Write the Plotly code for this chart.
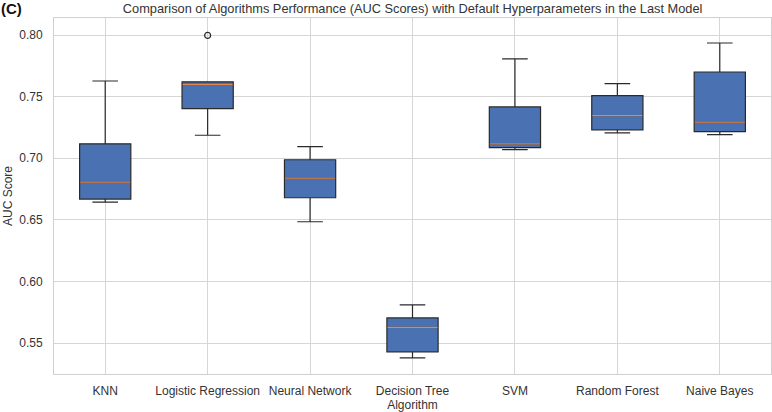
import plotly.graph_objects as go
import numpy as np

algorithms = ["KNN", "Logistic Regression", "Neural Network", "Decision Tree",
              "SVM", "Random Forest", "Naive Bayes"]

# five AUC scores per algorithm
knn = [0.6645, 0.6669, 0.6807, 0.7117, 0.7627]
logreg = [0.7187, 0.7403, 0.7598, 0.7620, 0.7997]
nnet = [0.6485, 0.6680, 0.6839, 0.6988, 0.7095]
dtree = [0.5381, 0.5430, 0.5629, 0.5705, 0.5810]
svm = [0.7071, 0.7087, 0.7117, 0.7417, 0.7806]
rforest = [0.7206, 0.7231, 0.7346, 0.7508, 0.7606]
nbayes = [0.7192, 0.7217, 0.7293, 0.7700, 0.7935]

scores = [knn, logreg, nnet, dtree, svm, rforest, nbayes]
positions = list(range(1, len(algorithms) + 1))

font = "Liberation Sans, Arial, sans-serif"
fig = go.Figure()

for pos, name, vals in zip(positions, algorithms, scores):
    fig.add_trace(go.Box(
        y=vals, x0=pos, name=name, width=0.5,
        quartilemethod="inclusive", boxpoints="outliers",
        fillcolor="#4a72b2", line=dict(color="#2a2a2a", width=1.2),
        whiskerwidth=0.5,
        marker=dict(symbol="circle-open", size=6, color="#2a2a2a",
                    line=dict(width=1.2)),
        showlegend=False,
    ))

# matplotlib-style orange median lines
for pos, vals in zip(positions, scores):
    med = float(np.median(vals))
    fig.add_trace(go.Scatter(
        x=[pos - 0.245, pos + 0.245], y=[med, med], mode="lines",
        line=dict(color="#e3884f", width=1.3), showlegend=False,
        hoverinfo="skip",
    ))

fig.update_layout(
    width=772, height=412,
    margin=dict(l=54, r=1, t=18, b=38),
    plot_bgcolor="white", paper_bgcolor="white",
    font=dict(family=font, size=12, color="#333333"),
    title=dict(
        text="Comparison of Algorithms Performance (AUC Scores) with Default Hyperparameters in the Last Model",
        x=0.5345, xanchor="center", y=0.979, yanchor="middle",
        font=dict(size=12.8, color="#333333"),
    ),
    annotations=[dict(
        text="<b>(C)</b>", x=0, y=1, xref="paper", yref="paper",
        xanchor="left", yanchor="top", showarrow=False,
        font=dict(size=15, color="#111111"),
        xshift=-55, yshift=20,
    )],
)

fig.update_xaxes(
    range=[0.5, 7.5], tickvals=positions, ticktext=algorithms,
    showgrid=True, gridcolor="#d6d6d6", gridwidth=1,
    showline=True, linecolor="#d0d0d0", mirror=True, zeroline=False,
    ticks="", ticklabelstandoff=6,
    title=dict(text="Algorithm", standoff=2, font=dict(size=12)),
)
fig.update_yaxes(
    range=[0.525, 0.8138], tickvals=[0.55, 0.60, 0.65, 0.70, 0.75, 0.80],
    tickformat=".2f",
    showgrid=True, gridcolor="#d6d6d6", gridwidth=1,
    showline=True, linecolor="#d0d0d0", mirror=True, zeroline=False,
    ticks="", ticklabelstandoff=8,
    title=dict(text="AUC Score", standoff=4, font=dict(size=12)),
)

# drop the page's default body margin so the figure sits at the window corner
fig.write_html("out.html", config={"displayModeBar": False},
               post_script="document.body.style.margin='0';")
